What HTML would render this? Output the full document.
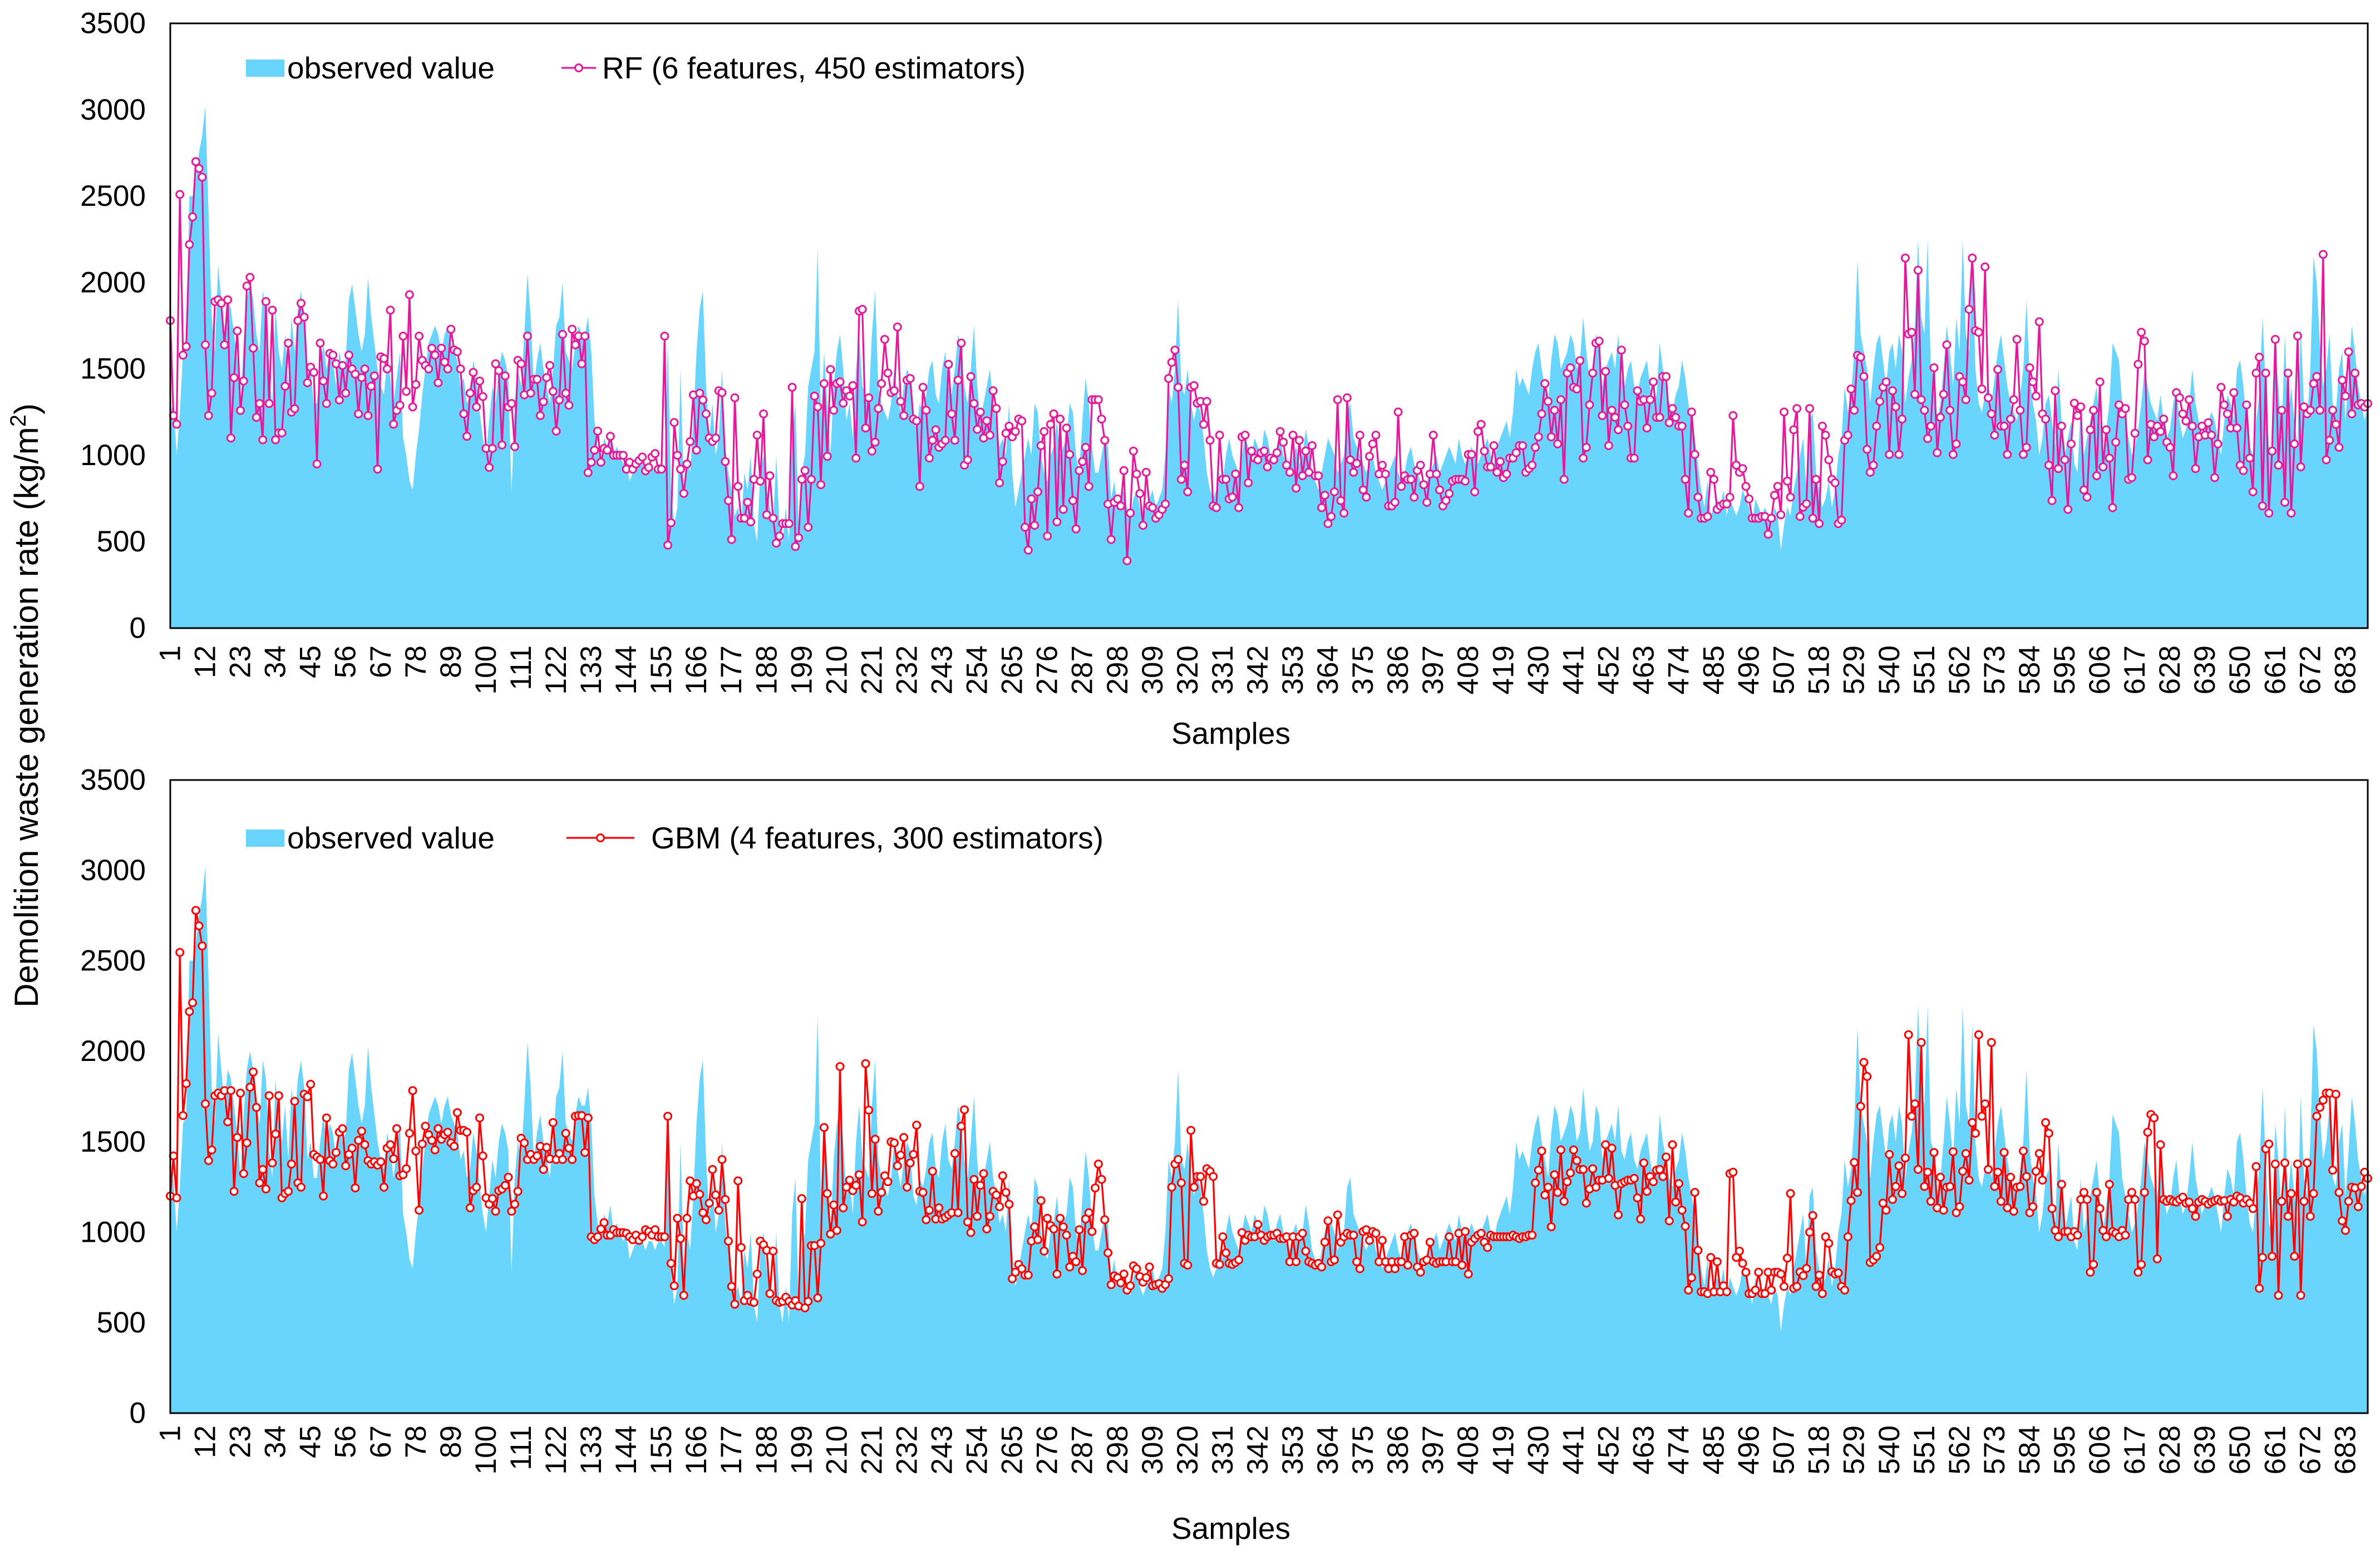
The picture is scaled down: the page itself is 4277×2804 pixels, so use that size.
<!DOCTYPE html>
<html><head><meta charset="utf-8"><style>
html,body{margin:0;padding:0;background:#fff;}
svg{display:block;font-family:"Liberation Sans",Arial,sans-serif;}
</style></head><body>
<svg id="chart" width="4277" height="2804" viewBox="0 0 4277 2804" xmlns="http://www.w3.org/2000/svg">
<rect x="0" y="0" width="4277" height="2804" fill="#fff"/>
<g id="top-panel"></g>
<g id="bottom-panel"></g>
<text x="0" y="0" transform="translate(68,1268) rotate(-90)" text-anchor="middle" font-size="60" fill="#000">Demolition waste generation rate (kg/m<tspan dy="-22" font-size="40">2</tspan><tspan dy="22">)</tspan></text>
</svg>
<script>
const observed = [
1250,1300,1000,1250,1600,1650,2500,2500,2600,2750,2850,3020,2400,1800,1600,2100,1900,1700,1900,1850,
1700,1550,1300,1650,1900,2000,1900,1700,1600,1950,1850,1450,1300,1850,1600,1500,1700,1400,1800,1600,
1850,1950,1800,1400,1500,1300,1300,1500,1650,1500,1600,1550,1400,1600,1500,1550,1900,1990,1850,1700,
1600,1700,2030,1800,1650,1500,1400,1350,1550,1450,1300,1450,1600,1100,1000,850,800,1000,1150,1350,
1500,1650,1700,1750,1700,1600,1700,1750,1650,1600,1550,1400,1450,1300,1350,1550,1450,1250,1100,1000,
1200,1400,1300,1500,1600,1550,1450,780,1300,1500,1400,1700,2050,1800,1400,1550,1650,1500,1400,1300,
1500,1750,1800,2000,1600,1550,1500,1650,1750,1700,1700,1800,1600,1200,1050,950,1100,1050,1150,1000,
1050,1000,950,1000,850,900,950,980,950,900,950,950,900,950,950,920,1650,800,600,700,
1500,800,1000,900,1200,1600,1850,1950,1400,1100,1300,1000,1100,1500,1050,900,800,650,700,600,
900,800,1000,600,500,900,1000,800,700,600,1000,600,500,700,500,1100,1300,600,900,1000,
1400,1500,1600,2200,1200,1600,1300,1000,1400,1600,1700,1500,1200,1300,1100,1500,1700,1400,1350,1300,
1700,1950,1400,1300,1250,1200,1300,1500,1350,1250,1400,1500,1450,1200,1150,1300,1250,1350,1500,1550,
1350,1300,1500,1600,1400,1350,1500,1700,1600,1400,1300,1500,1750,1400,1200,1300,1400,1500,1300,1200,
1050,1100,1000,1300,900,700,800,900,1000,1100,1000,1300,1250,1000,900,850,1000,1050,1200,1000,
1050,1100,1300,1250,1000,900,1200,1450,1300,1050,900,900,1000,1100,1050,750,850,700,750,800,
700,650,750,800,700,650,700,750,800,700,750,800,1000,1400,1300,1500,1900,1400,1350,1500,
1300,1200,1300,1250,1100,900,800,750,800,900,850,1000,1100,1000,950,900,1000,1100,1050,1000,
1100,1050,1000,1150,1100,1000,950,1050,1100,1000,950,900,1000,1050,950,1000,1150,1050,900,850,
800,900,1000,1100,1050,1000,900,950,1000,1250,1300,1100,1050,1000,950,900,950,1000,900,850,
800,850,900,950,1000,900,850,900,1000,1050,950,900,850,800,850,900,950,1000,900,950,
1000,1050,1000,950,1100,1000,950,1000,1050,1000,950,1000,1050,1100,1000,950,1050,1100,1150,1200,
1100,1250,1500,1400,1450,1400,1350,1500,1600,1650,1500,1400,1300,1550,1700,1650,1500,1550,1600,1700,
1650,1500,1550,1800,1600,1450,1500,1700,1650,1400,1500,1550,1600,1500,1700,1450,1400,1500,1550,1400,
1350,1450,1500,1550,1400,1300,1350,1650,1500,1400,1300,1250,1350,1400,1550,1450,1300,1200,1100,950,
800,700,850,650,700,750,700,800,650,750,700,650,700,800,750,700,600,750,700,650,
700,650,600,700,650,450,600,700,650,800,900,1000,1100,800,1200,1250,900,800,700,750,
850,700,800,1000,1100,1400,1250,1350,1600,2130,1700,1600,1500,1300,1500,1650,1700,1550,1400,1600,
1650,1500,1700,1600,1300,1450,1550,1750,2250,1800,1700,2250,1500,1450,1200,1300,1500,1750,1600,1400,
1800,1600,2250,1700,1600,2150,1500,1300,1250,1350,1400,1300,1450,1600,1700,1550,1400,1300,1250,1200,
1350,1500,1900,1450,1300,1200,1000,1100,1300,1350,1200,1050,1500,1200,1000,1100,1200,950,900,1300,
1000,1100,1200,1300,1400,1200,1000,1150,1300,1650,1600,1550,1300,1200,1100,1000,1050,1150,1300,1500,
1400,1300,1250,1200,1350,1200,1100,1150,1300,1400,1200,1100,1150,1300,1500,1300,1200,1100,1150,1200,
1250,1200,1100,1000,1200,1350,1300,1200,1500,1550,1400,1200,1050,1000,1200,1350,1800,1400,1050,1000,
1600,1400,1100,1700,1200,1400,1200,1050,1750,1300,1200,1500,2150,2000,1650,1400,1500,1700,1300,1250,
1500,1600,1200,1450,1750,1600,1400,1300,1200,1300];
const rfValues = [
1780,1230,1180,2510,1580,1630,2220,2380,2700,2660,2610,1640,1230,1360,1890,1900,1880,1640,1900,1100,
1450,1720,1260,1430,1980,2030,1620,1220,1300,1090,1890,1300,1840,1090,1130,1130,1400,1650,1250,1270,
1780,1880,1800,1420,1510,1480,950,1650,1430,1300,1590,1580,1530,1320,1520,1360,1580,1500,1470,1240,
1450,1500,1230,1400,1460,920,1570,1560,1500,1840,1180,1260,1290,1690,1370,1930,1280,1410,1690,1550,
1520,1500,1620,1580,1420,1620,1540,1500,1730,1610,1600,1500,1240,1110,1360,1480,1280,1430,1340,1040,
930,1040,1530,1490,1060,1460,1280,1300,1050,1550,1530,1350,1690,1360,1440,1440,1230,1310,1450,1520,
1370,1140,1320,1700,1360,1290,1730,1640,1690,1530,1690,900,960,1030,1140,960,1040,1030,1110,1000,
1000,1000,1000,920,960,920,950,970,990,910,930,990,1010,920,920,1690,480,610,1190,1000,
920,780,950,1080,1350,1030,1360,1320,1240,1100,1080,1100,
1374,1363,964,738,513,1333,820,636,636,728,615,861,1117,851,1240,656,882,636,492,533,
605,605,605,1394,472,523,861,912,584,861,1343,1281,830,1415,994,1497,1261,1415,1425,1302,
1374,1343,1404,984,1835,1845,1158,1333,1025,1076,1271,1415,1671,1476,1363,1374,1743,1312,1230,1435,
1445,1210,1199,820,1394,1261,984,1087,1148,1046,1066,1087,1527,1240,1087,1435,1650,943,974,1456,
1300,1150,1250,1100,1200,
1117,1374,1271,841,964,1128,1169,1107,1138,1210,1199,584,451,748,595,789,1056,1138,533,1179,
1240,615,1210,687,1158,1005,738,574,912,964,1046,820,1322,1322,1322,1210,1087,718,513,728,
748,707,912,390,666,1025,892,779,595,902,707,697,636,656,687,718,1445,1538,1609,1394,
861,943,789,1394,1404,1302,1312,1179,1312,1087,707,697,1117,861,861,748,758,892,697,1107,
1117,841,1025,984,974,1015,
1025,933,984,974,1015,1138,1076,943,902,1117,810,1087,882,1025,902,1056,882,882,697,769,
605,646,789,1322,738,666,1333,974,902,953,1117,800,758,994,1066,1117,892,943,892,707,
707,728,1251,820,882,861,861,758,912,943,830,728,892,1117,892,800,707,738,779,851,
861,861,861,851,1005,1005,789,1138,1179,1025,933,933,1056,902,964,871,892,984,984,1015,
1056,1056,902,923,943,1046,1107,1240,1415,1312,1107,1261,1066,1322,861,1476,1507,1394,1384,1548,
984,1046,1292,1476,1650,1661,1230,1486,1056,1261,1220,1148,1609,1292,1169,984,984,1374,1312,1322,
1158,1322,1425,1220,1220,1456,1456,1189,1271,1220,1169,1169,861,666,1251,1005,758,636,636,646,
902,861,687,707,718,718,758,1230,943,902,923,820,748,636,636,636,646,646,543,636,
769,820,656,1251,851,758,1148,1271,646,
700,720,
1271,636,861,605,1169,1117,974,861,841,605,625,1087,1117,1384,1261,1579,1568,1456,1035,902,
943,1169,1312,1394,1425,1005,1374,1281,1005,1210,2142,1702,1712,1353,2071,1322,1261,1097,1169,1507,
1015,1220,1353,1640,1261,1005,1066,1456,1425,1322,1845,2142,1722,1712,1384,2091,1333,1240,1117,1497,
1169,1169,1005,1210,1322,1671,1261,1005,1046,1507,1425,1343,1773,1240,1210,943,738,1374,923,1169,
974,687,1066,1302,1230,1281,800,758,1148,1261,882,1425,933,1148,984,697,1076,1292,1240,1271,
861,871,1128,1527,1712,1661,974,1179,1107,1169,1138,1210,1076,1046,882,1363,1333,1240,1199,1322,
1169,923,1107,1169,1117,1189,1117,871,1066,1394,1292,1240,1158,1363,1158,943,912,1292,984,789,
1476,1568,707,1476,666,1025,1671,943,1261,728,1476,666,1066,1691,933,1281,1240,1261,1415,1456,
1261,2163,974,1087,1261,1179,1046,1435,1343,1599,1240,1476,1292,1300,1280,1300];
const gbmValues = [
1200,1422,1190,2547,1645,1822,2220,2269,2779,2694,2583,1710,1396,1455,1755,1769,1755,1783,1610,1783,
1226,1524,1769,1324,1494,1802,1886,1690,1273,1347,1239,1755,1383,1543,1755,1190,1214,1226,1377,1724,
1273,1249,1763,1749,1818,1430,1416,1402,1200,1632,1396,1377,1441,1553,1573,1367,1430,1465,1245,1508,
1559,1484,1396,1377,1390,1371,1390,1249,1465,1484,1406,1573,1312,1318,1351,1547,1783,1449,1122,1488,
1586,1539,1508,1455,1573,1514,1539,1553,1494,1475,1661,1563,1563,1553,1135,1230,1249,1632,1422,1190,
1155,1186,1116,1230,1239,1259,1304,1116,1155,1226,1520,1494,1402,1430,1402,1422,1475,1347,1469,1406,
1606,1402,1435,1402,1547,1465,1402,1641,1645,1645,1441,1632,975,959,975,1018,1053,984,984,1014,
998,998,998,994,975,959,984,955,975,1014,1004,984,1014,975,975,975,1641,828,704,1077,
965,651,1077,1284,1200,1269,1210,1108,1069,1161,1347,1206,1122,1402,
1181,951,700,602,1284,916,622,651,618,612,769,951,931,900,661,896,622,612,618,641,
618,598,622,592,1186,582,618,926,926,637,939,1579,1214,990,1151,1010,1916,1135,1249,1288,
1230,1259,1318,1057,1932,1675,1214,1514,1116,1220,1312,1279,1500,1494,1367,1426,1524,1249,1383,1430,
1592,1226,1220,1069,1122,1337,1073,1135,1073,1082,1096,1108,1435,1108,1586,1677,1057,998,1292,1088,
1259,1324,1018,1088,1226,1206,1141,1312,1220,1155,743,779,822,798,763,763,951,1030,959,1175,
896,1077,1037,1018,769,1077,1030,984,808,867,837,1014,788,1073,1108,1004,1245,1377,1292,1069,
886,710,759,749,720,769,680,704,814,798,755,724,749,808,704,710,716,690,710,743,
1249,1377,1402,1273,828,818,1563,1249,1308,1308,1171,1351,1337,1308,828,822,975,886,828,822,
833,847,998,955,984,975,975,
1043,984,955,975,984,984,994,965,965,975,837,975,837,975,994,896,837,828,818,828,
808,945,1063,837,847,1096,945,975,994,984,984,837,798,1004,1014,955,1004,994,837,955,
837,798,837,798,837,837,975,818,984,994,808,779,837,847,945,837,828,837,837,837,
975,837,837,994,818,1004,769,945,965,984,994,945,916,984,975,975,975,975,975,975,
984,975,965,975,975,984,984,1273,1343,1449,1206,1249,1030,1318,1220,1455,1171,1279,1328,1455,
1396,1347,1347,1161,1239,1351,1249,1288,1288,1484,1298,1465,1259,1096,1269,1279,1288,1288,1298,1190,
1073,1383,1226,1308,1279,1343,1347,1308,1416,1063,1484,1167,1269,1122,1033,680,749,1220,900,671,
671,661,861,671,837,671,704,671,1324,1332,861,896,828,779,661,661,680,779,661,661,
779,680,779,779,769,700,857,1214,690,
700,780,760,800,1000,
1092,700,763,661,975,939,782,769,775,700,680,975,1175,1386,1220,1696,1939,1861,833,847,
867,916,1161,1122,1430,1181,1253,1367,1214,1410,2092,1641,1710,1347,2049,1253,1332,1171,1441,1135,
1304,1122,1249,1253,1445,1108,1141,1337,1435,1288,1606,1547,2092,1641,1710,1347,2049,1253,1332,1171,
1441,1135,1304,1116,1249,1253,1449,1308,1108,1141,1337,1435,1288,1606,1547,1131,1010,975,1265,1004,
1004,975,1004,984,1181,1220,1181,779,822,1220,1131,1010,975,1265,1004,994,975,1010,984,1181,
1220,1181,779,822,1220,1553,1651,1632,853,1484,1181,1171,1181,1171,1167,1181,1194,1161,1167,1131,
1088,1167,1181,1171,1155,1167,1175,1181,1171,1175,1088,1181,1167,1200,1190,1161,1181,1161,1131,1363,
690,861,1461,1488,867,1377,651,1171,1383,1088,1214,867,1377,651,1171,1383,1088,1214,1641,1690,
1730,1769,1769,1343,1763,1220,1063,1010,1171,1249,1245,1141,1253,1332,1298];
const yTicks = [0,500,1000,1500,2000,2500,3000,3500];
const xTickLabels = [1,12,23,34,45,56,67,78,89,100,111,122,133,144,155,166,177,188,199,210,221,232,243,254,265,276,287,298,309,320,331,342,353,364,375,386,397,408,419,430,441,452,463,474,485,496,507,518,529,540,551,562,573,584,595,606,617,628,639,650,661,672,683];

const NS = 'http://www.w3.org/2000/svg';
function mk(tag, attrs, parent){
  const e = document.createElementNS(NS, tag);
  for (const k in attrs) e.setAttribute(k, attrs[k]);
  if (parent) parent.appendChild(e);
  return e;
}
const PX0 = 306, PX1 = 4255, YMAX = 3500;
const N = observed.length;
function xScale(i){ return PX0 + i * (PX1 - PX0) / (N - 1); }

function drawPanel(g, top, bottom, series, color, legendText, legendY, lineLegendX0, lineLegendX1, textX, labelY, samplesY){
  const yScale = v => bottom - v / YMAX * (bottom - top);
  let d = 'M' + xScale(0) + ',' + bottom;
  observed.forEach((v,i)=>{ d += ' L' + xScale(i).toFixed(1) + ',' + yScale(v).toFixed(1); });
  d += ' L' + xScale(N-1) + ',' + bottom + ' Z';
  const area = mk('path', {d: d, fill: '#69D5FD', stroke: 'none'}, g);
  
  
  let pts = series.map((v,i)=> xScale(i).toFixed(1) + ',' + yScale(v).toFixed(1)).join(' ');
  const line = mk('polyline', {points: pts, fill: 'none', stroke: color, 'stroke-width': 3.2, 'stroke-linejoin': 'round'}, g);
  
  
  const mg = mk('g', {}, g);
  
  
  series.forEach((v,i)=>{
    const c = mk('circle', {cx: xScale(i).toFixed(1), cy: yScale(v).toFixed(1), r: 6.5, fill: '#fff', stroke: color, 'stroke-width': 3}, mg);
    
    
  });
  const fr = mk('rect', {x: PX0, y: top, width: PX1 - PX0, height: bottom - top, fill: 'none', stroke: '#000', 'stroke-width': 3}, g);
  
  
  yTicks.forEach(t=>{
    const tx = mk('text', {x: 262, y: yScale(t), 'text-anchor': 'end', 'dominant-baseline': 'central', 'font-size': 53, fill: '#000'}, g);
    tx.textContent = t;
    
    
  });
  xTickLabels.forEach(t=>{
    const x = xScale(t - 1);
    const tx = mk('text', {x: 0, y: 0, transform: 'translate(' + x.toFixed(1) + ',' + labelY + ') rotate(-90)', 'text-anchor': 'end', 'dominant-baseline': 'central', 'font-size': 53, fill: '#000'}, g);
    tx.textContent = t;
    
    
  });
  const st = mk('text', {x: 2212, y: samplesY, 'text-anchor': 'middle', 'dominant-baseline': 'central', 'font-size': 55, fill: '#000'}, g);
  st.textContent = 'Samples';
  
  
  const lg = mk('g', {}, g);
  
  
  const sw = mk('rect', {x: 442, y: legendY - 15, width: 69, height: 31, fill: '#69D5FD'}, lg);
  
  
  const t1 = mk('text', {x: 516, y: legendY, 'dominant-baseline': 'central', 'font-size': 55, fill: '#000'}, lg);
  t1.textContent = 'observed value';
  
  
  const ll = mk('line', {x1: lineLegendX0, x2: lineLegendX1, y1: legendY, y2: legendY, stroke: color, 'stroke-width': 3.2}, lg);
  
  
  const lc = mk('circle', {cx: (lineLegendX0 + lineLegendX1) / 2, cy: legendY, r: 6.5, fill: '#fff', stroke: color, 'stroke-width': 3}, lg);
  
  
  const t2 = mk('text', {x: textX, y: legendY, 'dominant-baseline': 'central', 'font-size': 55, fill: '#000'}, lg);
  t2.textContent = legendText;
  
  
}
drawPanel(document.getElementById('top-panel'), 42, 1129, rfValues, '#E6199A', 'RF (6 features, 450 estimators)', 122, 1009, 1071, 1082, 1160, 1318);
drawPanel(document.getElementById('bottom-panel'), 1402, 2540, gbmValues, '#FF0000', 'GBM (4 features, 300 estimators)', 1506, 1018, 1140, 1170, 2562, 2747);
</script>
</body></html>
